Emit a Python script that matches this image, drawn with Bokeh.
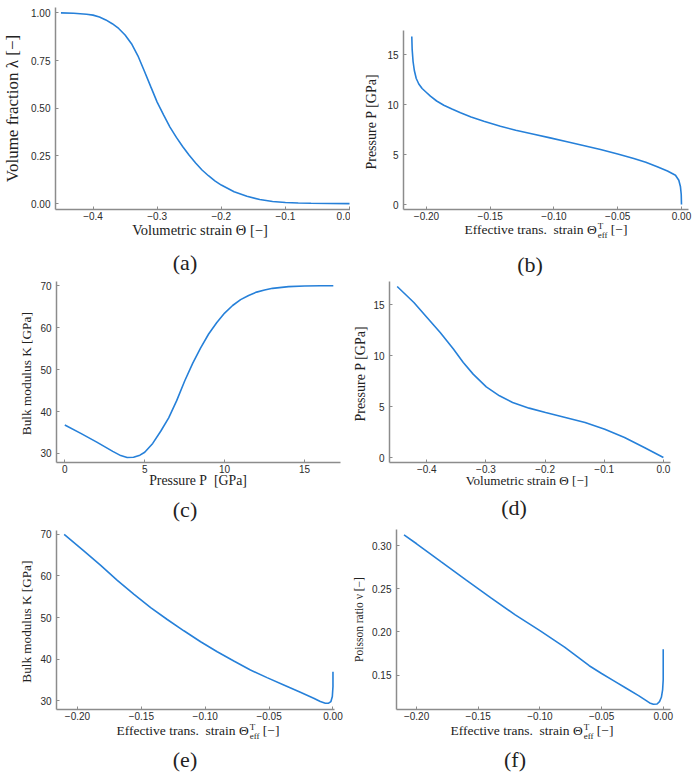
from bokeh.plotting import figure
from bokeh.models import FixedTicker, Range1d, Div
from bokeh.layouts import column, row
from bokeh.embed import file_html
from bokeh.resources import INLINE

# ---------------- data ----------------
# (a) volume fraction vs volumetric strain
A_THETA = [-0.45, -0.43, -0.41, -0.40, -0.39, -0.38, -0.37, -0.36, -0.35, -0.34, -0.33,
           -0.32, -0.31, -0.30, -0.29, -0.28, -0.27, -0.26, -0.25, -0.24, -0.23, -0.22,
           -0.21, -0.20, -0.18, -0.16, -0.14, -0.12, -0.10, -0.08, -0.06, -0.03, 0.0]
A_LAMBDA = [1.0, 0.998, 0.993, 0.988, 0.978, 0.963, 0.943, 0.918, 0.884, 0.838, 0.775,
            0.695, 0.613, 0.532, 0.465, 0.401, 0.347, 0.298, 0.253, 0.213, 0.176, 0.146,
            0.119, 0.097, 0.062, 0.038, 0.021, 0.011, 0.006, 0.003, 0.0015, 0.0005, 0.0]

# (b) pressure vs effective transformation strain
B_THETA_EFF = [-0.2115, -0.2112, -0.2105, -0.2095, -0.2080, -0.2060, -0.2034, -0.2000, -0.1969,
               -0.1920, -0.1864, -0.1800, -0.1733, -0.1650, -0.1550, -0.1420, -0.1300, -0.1158,
               -0.1030, -0.0897, -0.0770, -0.0635, -0.0500, -0.0374, -0.0280, -0.0190, -0.0110,
               -0.0047, -0.0021, -0.0008, -0.0002, 0.0]
B_P = [16.8, 15.5, 14.3, 13.4, 12.6, 12.05, 11.6, 11.2, 10.83, 10.35, 9.93, 9.55, 9.17, 8.75,
       8.33, 7.83, 7.42, 7.03, 6.66, 6.27, 5.9, 5.5, 5.05, 4.6, 4.22, 3.77, 3.35, 2.93, 2.43,
       1.77, 1.0, 0.0]

# (c) bulk modulus vs pressure
C_P = [0.0, 1.0, 2.0, 3.0, 3.5, 3.9, 4.3, 4.7, 5.0, 5.5, 6.0, 6.5, 7.0, 7.5, 8.0, 8.5, 9.0,
       9.5, 10.0, 10.5, 11.0, 11.5, 12.0, 12.5, 13.0, 14.0, 15.0, 16.0, 16.8]
C_K = [36.8, 34.8, 32.7, 30.5, 29.5, 29.05, 29.1, 29.6, 30.3, 32.4, 35.3, 38.5, 42.6, 47.3,
       51.5, 55.2, 58.5, 61.2, 63.5, 65.3, 66.7, 67.7, 68.5, 69.0, 69.4, 69.8, 69.95, 70.0, 70.0]

# (d) pressure vs volumetric strain
D_THETA = [-0.45, -0.4218, -0.3996, -0.3773, -0.355, -0.3383, -0.3216, -0.2994, -0.2771,
           -0.2549, -0.227, -0.1992, -0.1658, -0.1324, -0.0991, -0.0657, -0.0323, 0.0]
D_P = [16.8, 15.23, 13.76, 12.28, 10.65, 9.33, 8.19, 6.94, 6.06, 5.4, 4.85, 4.42, 3.93,
       3.44, 2.78, 1.97, 0.98, 0.0]

# (e) bulk modulus vs effective transformation strain
E_THETA_EFF = [-0.2104, -0.1948, -0.1818, -0.1688, -0.1557, -0.1427, -0.1297, -0.1167, -0.1036,
               -0.0906, -0.0776, -0.0646, -0.0516, -0.0385, -0.0255, -0.0151, -0.0099, -0.0060,
               -0.0034, -0.0016, -0.0005, 0.0, 0.0]
E_K = [70.0, 66.0, 62.56, 58.96, 55.6, 52.4, 49.52, 46.8, 44.16, 41.76, 39.52, 37.36, 35.52,
       33.76, 32.0, 30.56, 29.76, 29.36, 29.36, 29.76, 30.96, 33.36, 36.96]

# (f) Poisson ratio vs effective transformation strain
F_THETA_EFF = [-0.2102, -0.20, -0.18, -0.16, -0.14, -0.12, -0.10, -0.08, -0.06, -0.05, -0.04,
               -0.03, -0.02, -0.015, -0.011, -0.008, -0.005, -0.003, -0.0015, -0.0005, 0.0, 0.0]
F_NU = [0.3123, 0.3020, 0.2810, 0.2602, 0.2397, 0.2198, 0.2015, 0.1825, 0.1610, 0.1520,
        0.1435, 0.1350, 0.1265, 0.1218, 0.1180, 0.1165, 0.1168, 0.1195, 0.1245, 0.1330,
        0.1450, 0.1800]

# ticks
T_STRAIN = [-0.4, -0.3, -0.2, -0.1, 0.0]
T_STRAIN_LBL = ["\u22120.4", "\u22120.3", "\u22120.2", "\u22120.1", "0.0"]
T_EFF = [-0.20, -0.15, -0.10, -0.05, 0.0]
T_EFF_LBL = ["\u22120.20", "\u22120.15", "\u22120.10", "\u22120.05", "0.00"]
T_FRAC = [0.0, 0.25, 0.5, 0.75, 1.0]
T_FRAC_LBL = ["0.00", "0.25", "0.50", "0.75", "1.00"]
T_P = [0, 5, 10, 15]
T_P_LBL = ["0", "5", "10", "15"]
T_K = [30, 40, 50, 60, 70]
T_K_LBL = ["30", "40", "50", "60", "70"]
T_NU = [0.15, 0.20, 0.25, 0.30]
T_NU_LBL = ["0.15", "0.20", "0.25", "0.30"]

LBL_STRAIN = "Volumetric strain \u0398 [\u2212]"
LBL_EFF = ("Effective trans.&nbsp; strain \u0398"
           "<span style=\"display:inline-block;vertical-align:-4px;font-size:9px;"
           "line-height:9px;margin-left:1px;text-align:left\">"
           "<span style=\"display:block\">T</span><span style=\"display:block\">eff</span>"
           "</span> [\u2212]")
LBL_P = "Pressure P&nbsp; [GPa]"

LINE = "#2680d9"
AXIS = "#8c8c8c"
TICKC = "#2b2b2b"
SERIF = "Liberation Serif"
SANS = "Liberation Sans"


def panel(w, h, bl, br, bt, bb, xr, yr, xt, xtl, yt, ytl, xs, ys, ylabel, yl_fs, yl_stand):
    p = figure(width=w, height=h, min_border_left=bl, min_border_right=br,
               min_border_top=bt, min_border_bottom=bb,
               x_range=Range1d(*xr), y_range=Range1d(*yr),
               output_backend="svg", toolbar_location=None, tools="")
    p.frame_align = False
    p.line(xs, ys, line_color=LINE, line_width=1.6)
    p.grid.visible = False
    p.outline_line_color = None
    for ax, ticks, labels in ((p.xaxis[0], xt, xtl), (p.yaxis[0], yt, ytl)):
        ax.ticker = FixedTicker(ticks=ticks)
        ax.major_label_overrides = dict(zip(ticks, labels))
        ax.minor_tick_line_color = None
        ax.major_tick_in = 3
        ax.major_tick_out = 0
        ax.axis_line_color = AXIS
        ax.axis_line_width = 1.5
        ax.major_tick_line_color = AXIS
        ax.major_tick_line_width = 1
        ax.major_label_text_font = SANS
        ax.major_label_text_font_size = "10px"
        ax.major_label_text_color = TICKC
        ax.axis_label_text_font = SERIF
        ax.axis_label_text_font_style = "normal"
        ax.axis_label_text_color = "#222222"
    p.xaxis[0].major_label_standoff = 2
    p.yaxis[0].major_label_standoff = 5
    p.yaxis[0].axis_label_standoff = yl_stand
    p.yaxis[0].axis_label = ylabel
    p.yaxis[0].axis_label_text_font_size = f"{yl_fs}px"
    return p


def span(x, y, html, size):
    return (f"<span style=\"position:absolute;left:{x}px;top:{y}px;"
            f"transform:translate(-50%,-50%);white-space:nowrap;line-height:1;"
            f"font-family:'{SERIF}';font-size:{size}px;color:#222222\">{html}</span>")


def strip(h, items):
    inner = "".join(span(*it) for it in items)
    html = (f"<div style=\"position:relative;width:697px;height:{h}px;"
            f"overflow:visible\">{inner}</div>")
    return Div(text=html, width=697, height=h, margin=0, styles={"overflow": "visible"})


pa = panel(350, 224, 51, 0, 7, 15, (-0.4585, 0.0015), (-0.031, 1.028),
           T_STRAIN, T_STRAIN_LBL, T_FRAC, T_FRAC_LBL, A_THETA, A_LAMBDA,
           "Volume fraction \u03bb [\u2212]", 17, 6)
pb = panel(347, 224, 53, 9, 30, 15, (-0.218, 0.0055), (-0.5, 17.4),
           T_EFF, T_EFF_LBL, T_P, T_P_LBL, B_THETA_EFF, B_P,
           "Pressure P  [GPa]", 14, 5)
pc = panel(350, 202, 56, 10, 6, 15, (-0.52, 17.25), (27.85, 71.03),
           T_P, T_P_LBL, T_K, T_K_LBL, C_P, C_K,
           "Bulk modulus K  [GPa]", 13.3, 3)
pd_ = panel(347, 202, 35, 27, 6, 15, (-0.463, 0.012), (-0.49, 17.29),
            T_STRAIN, T_STRAIN_LBL, T_P, T_P_LBL, D_THETA, D_P,
            "Pressure P  [GPa]", 14, 2)
pe = panel(350, 200, 56, 16, 5, 16, (-0.2164, 0.0012), (27.84, 70.96),
           T_EFF, T_EFF_LBL, T_K, T_K_LBL, E_THETA_EFF, E_K,
           "Bulk modulus K  [GPa]", 13.2, 3)
pf = panel(347, 200, 44, 27, 4, 16, (-0.2163, 0.0059), (0.1104, 0.3185),
           T_EFF, T_EFF_LBL, T_NU, T_NU_LBL, F_THETA_EFF, F_NU,
           "Poisson ratio \u03bd [\u2212]", 11.5, 4)

s1 = strip(51, [(200, 6, LBL_STRAIN, 14.5), (546, 7, LBL_EFF, 13.5),
                (185, 39, "(a)", 22), (530, 41, "(b)", 22)])
s2 = strip(48, [(198, 4, LBL_P, 13.8), (527, 4, LBL_STRAIN, 13.1),
                (185, 33, "(c)", 22), (514, 31, "(d)", 22)])
s3 = strip(53, [(198, 7, LBL_EFF, 13.5), (532, 7, LBL_EFF, 13.5),
                (185, 35, "(e)", 22), (515, 35, "(f)", 22)])

layout = column(row(pa, pb), s1, row(pc, pd_), s2, row(pe, pf), s3)
open("out.html", "w").write(file_html(layout, INLINE))
